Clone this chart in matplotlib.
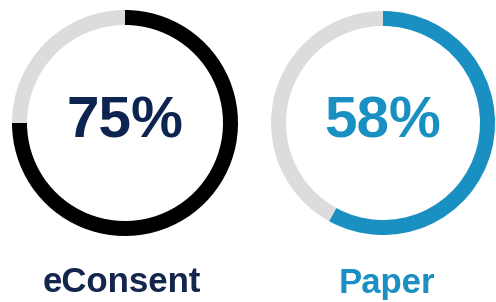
import matplotlib.pyplot as plt

# donnees
labels = ['eConsent', 'Paper']
values = [75, 58]
ring_colors = ['#000000', '#1a8fc1']
text_colors = ['#0d2350', '#1a8fc1']
label_colors = ['#14264d', '#1a8fc1']
rest_color = '#dcdcdc'

centers = [(125, 179), (383, 179)]
radii = [113, 112]
label_x = [122, 387]

fig = plt.figure(figsize=(4.96, 3.02), dpi=100)
ax = fig.add_axes([0, 0, 1, 1])

for i in range(len(values)):
    v = values[i]
    ax.pie([v, 100 - v], colors=[ring_colors[i], rest_color],
           startangle=90, counterclock=False,
           center=centers[i], radius=radii[i], frame=True,
           wedgeprops=dict(width=15, linewidth=0))
    ax.text(centers[i][0], centers[i][1] + 1, '%d%%' % v,
            ha='center', va='center', fontsize=42, fontweight='bold',
            color=text_colors[i], family='Liberation Sans')
    ax.text(label_x[i], 19, labels[i], ha='center', va='center',
            fontsize=25, fontweight='bold', color=label_colors[i],
            family='Liberation Sans')

ax.set_xlim(0, 496)
ax.set_ylim(0, 302)
ax.set_aspect('equal')
ax.axis('off')

fig.savefig('out.png', dpi=100)
